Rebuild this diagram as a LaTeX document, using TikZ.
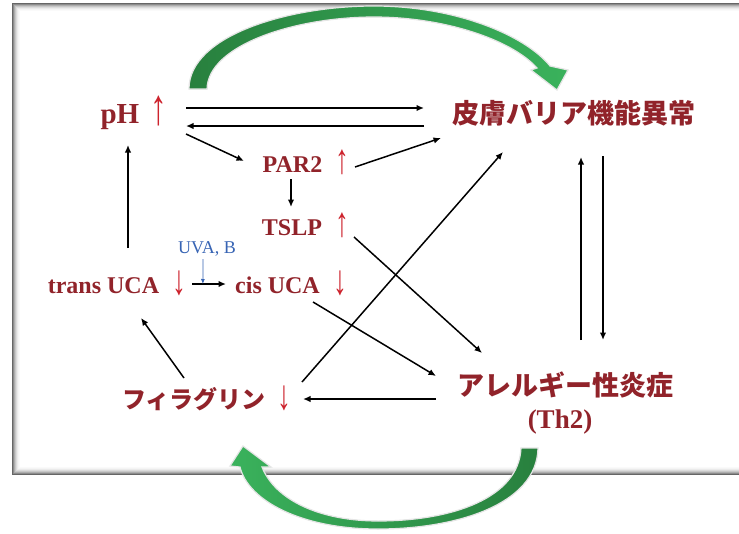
\documentclass[tikz,border=0pt]{standalone}
\usepackage{fontspec}
\setmainfont{Liberation Serif}
\newfontfamily\jp{Noto Sans CJK JP}
\usetikzlibrary{arrows.meta,calc}
\definecolor{txtred}{RGB}{145,35,42}
\definecolor{arrred}{RGB}{205,35,45}
\definecolor{uvblue}{RGB}{55,100,180}
\definecolor{gdark}{RGB}{40,128,62}
\definecolor{glight}{RGB}{58,178,92}
\newcommand\myup{{\rmfamily\mdseries\color{arrred}\raisebox{-0.06em}{\scalebox{1.15}[1.75]{↑}}}}
\newcommand\mydown{{\rmfamily\mdseries\color{arrred}\raisebox{-0.06em}{\scalebox{1.15}[1.75]{↓}}}}
\begin{document}
\begin{tikzpicture}[x=1pt,y=-1pt,
  lbl/.style={text=txtred,inner sep=0pt,anchor=base,font=\bfseries\fontsize{24}{28}\selectfont},
  jplbl/.style={text=txtred,inner sep=0pt,anchor=center,font=\jp\bfseries\fontsize{27}{30}\selectfont},
  conn/.style={draw=black,line width=1.5pt,-{Latex[length=7.5pt,width=6.5pt]}},
  uvconn/.style={draw=uvblue,line width=0.8pt,-{Latex[length=5pt,width=4pt]}},
  greenarrow/.style={draw=black!10,line width=1.2pt},
]
\useasboundingbox (0,0) rectangle (739,533);
\clip (0,0) rectangle (739,533);
\fill[white] (0,0) rectangle (739,533);
% frame with soft shadow
\foreach \i/\p in {0/60,1/45,2/32,3/22,4/14,5/8,6/4,7/2}
  \draw[black!\p, line width=1pt] ({12.5+\i},{3.5+\i}) rectangle (760,{474.5-\i});

% green arrows
\path[greenarrow,left color=gdark,right color=glight]
  (189,89) .. controls (189,35) and (290,6) .. (374,6)
  .. controls (455,6) and (525,35) .. (550,66)
  -- (568,70) -- (557,90) -- (531,70) -- (537,68)
  .. controls (512,40) and (445,17) .. (374,17)
  .. controls (295,17) and (208,45) .. (207,89) -- cycle;
\path[greenarrow,left color=glight,right color=gdark]
  (538,448) .. controls (537,505) and (455,529) .. (378,529)
  .. controls (300,529) and (248,500) .. (240,467)
  -- (230,466) -- (243,446) -- (271,467) -- (262,467)
  .. controls (275,500) and (320,521) .. (378,521)
  .. controls (452,521) and (519,498) .. (521,448) -- cycle;

% nodes
\node[lbl,font=\bfseries\fontsize{29}{32}\selectfont] (ph) at (134,123) {pH\hskip0.4em\myup};
\node[jplbl] (barrier) at (574,113) {皮膚バリア機能異常};
\node[lbl] (par2) at (306,172) {PAR2\hskip0.55em\myup};
\node[lbl] (tslp) at (305.5,235) {TSLP\hskip0.55em\myup};
\node[lbl] (trans) at (117,293) {trans UCA\hskip0.55em\mydown};
\node[lbl] (cis) at (291,293) {cis UCA\hskip0.55em\mydown};
\node[lbl,text=uvblue,font=\fontsize{18}{20}\selectfont] (uva) at (207,253) {UVA, B};
\node[jplbl] (allergy) at (565,385) {アレルギー性炎症};
\node[lbl,font=\bfseries\fontsize{27}{30}\selectfont] (th2) at (560,428) {(Th2)};
\node[lbl,font=\jp\bfseries\fontsize{24}{28}\selectfont] (fila) at (207,408) {フィラグリン\hskip0.5em\mydown};

% connectors
\draw[conn] ([shift={(52,-15)}]ph.base) -- ([shift={(-150,-5)}]barrier.center);
\draw[conn] ([shift={(-150,13)}]barrier.center) -- ([shift={(52,3)}]ph.base);
\draw[conn] ([shift={(52,11)}]ph.base) -- ([shift={(-62,-11)}]par2.base);
\draw[conn] ([shift={(49,-5)}]par2.base) -- ([shift={(-133,25)}]barrier.center);
\draw[conn] ([shift={(-15,7)}]par2.base) -- ([shift={(-14.5,-28)}]tslp.base);
\draw[conn] ([shift={(48.5,2)}]tslp.base) -- ([shift={(-83,-32)}]allergy.center);
\draw[conn] ([shift={(22,9)}]cis.base) -- ([shift={(-129,-9)}]allergy.center);
\draw[conn] ([shift={(95,-26)}]fila.base) -- ([shift={(-71,39)}]barrier.center);
\draw[conn] ([shift={(16,-45)}]allergy.center) -- ([shift={(7,44)}]barrier.center);
\draw[conn] ([shift={(29,43)}]barrier.center) -- ([shift={(38,-45)}]allergy.center);
\draw[conn] ([shift={(-129,14)}]allergy.center) -- ([shift={(96,-9)}]fila.base);
\draw[conn] ([shift={(-23,-30)}]fila.base) -- ([shift={(24,25)}]trans.base);
\draw[conn] ([shift={(11,-45)}]trans.base) -- ([shift={(-6,22)}]ph.base);
\draw[conn] ([shift={(75,-9)}]trans.base) -- ([shift={(-65,-9)}]cis.base) coordinate[pos=0.32] (uvhit);
\draw[uvconn] ([shift={(-4,6)}]uva.base) -- (uvhit);
\end{tikzpicture}
\end{document}
